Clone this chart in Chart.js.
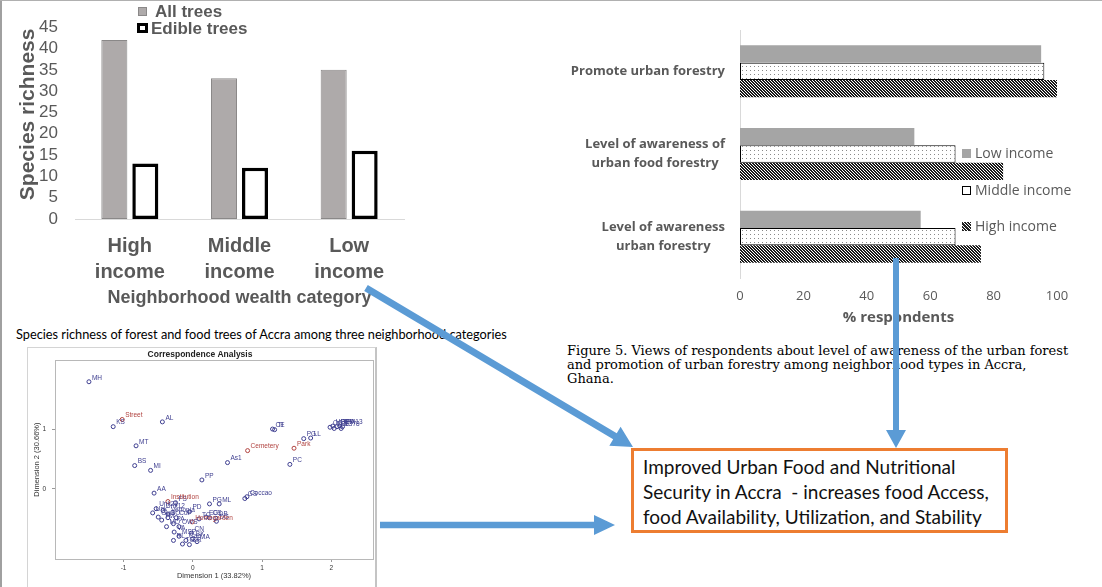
<!DOCTYPE html>
<html><head><meta charset="utf-8">
<script src="https://cdn.jsdelivr.net/npm/chart.js@4.4.0/dist/chart.umd.min.js"></script>
<style>
html,body{margin:0;padding:0;background:#fff;}
body{width:1102px;height:587px;position:relative;overflow:hidden;}
.abs{position:absolute;}
canvas{display:block;}
#legend1 div{position:absolute;font:bold 17px "Liberation Sans";color:#595959;white-space:nowrap;line-height:17px;}
#legend2 div{position:absolute;font:14px "Open Sans";color:#595959;white-space:nowrap;line-height:16px;}
.sw{position:absolute;box-sizing:border-box;}
</style></head><body>
<div class="abs" style="left:0;top:0;width:2px;height:587px;background:#a0a0a0"></div>
<div class="abs" style="left:0;top:0;width:1102px;height:1px;background:#b0b0b0"></div>

<canvas id="c1" class="abs" style="left:0;top:0" width="410" height="310"></canvas>
<div id="legend1">
  <span class="sw" style="left:138px;top:7px;width:9px;height:9px;background:#aeaaaa;border:1px solid #8a8888"></span>
  <div style="left:155px;top:3px">All trees</div>
  <span class="sw" style="left:137px;top:23px;width:11px;height:10px;background:#fff;border:3px solid #000"></span>
  <div style="left:151px;top:20px">Edible trees</div>
</div>

<canvas id="c2" class="abs" style="left:545px;top:25px" width="555" height="305"></canvas>
<div id="legend2">
  <span class="sw" style="left:962px;top:149px;width:9px;height:9px;background:#a5a5a5"></span>
  <div style="left:975px;top:145px">Low income</div>
  <span class="sw" style="left:962px;top:186px;width:9px;height:9px;background:#fff;border:1px solid #000"></span>
  <div style="left:975px;top:182px">Middle income</div>
  <span class="sw" style="left:962px;top:222px;width:9px;height:9px;background:repeating-linear-gradient(45deg,#222 0 1.6px,#fff 1.6px 2.4px)"></span>
  <div style="left:975px;top:218px">High income</div>
</div>

<div class="abs" style="left:16px;top:326px;font:12.75px Lato;color:#000;white-space:nowrap">Species richness of forest and food trees of Accra among three neighborhood categories</div>

<div class="abs" style="left:567px;top:344px;font:13px 'DejaVu Serif';line-height:14px;color:#000;white-space:nowrap">Figure 5. Views of respondents about level of awareness of the urban forest<br>and promotion of urban forestry among neighborhood types in Accra,<br>Ghana.</div>

<div class="abs" style="left:27px;top:347px;width:350px;height:245px;border:1px solid #d4d4d4;border-right:2px solid #c4c4c4;box-sizing:border-box"></div>
<canvas id="c3" class="abs" style="left:27px;top:347px" width="351" height="240"></canvas>

<div class="abs" style="left:631px;top:448px;width:377px;height:85px;box-sizing:border-box;border:3px solid #ed7d31;padding:3px 0 0 9px;font:19px Lato;line-height:25px;color:#111;white-space:nowrap">Improved Urban Food and Nutritional<br>Security in Accra&nbsp; - increases food Access,<br>food Availability, Utilization, and Stability</div>

<svg class="abs" style="left:0;top:0;pointer-events:none" width="1102" height="587">
  <g fill="#5b9bd5">
    <polygon id="a1"/>
    <polygon id="a2"/>
    <polygon id="a3"/>
  </g>
</svg>

<script>
// ---------- Data ----------
const wealthCategories = [["High", "income"], ["Middle", "income"], ["Low", "income"]];
const allTrees = [42, 33, 35];
const edibleTrees = [13, 12, 16];
const richnessTicks = [0, 5, 10, 15, 20, 25, 30, 35, 40, 45];

const viewCategories = [["Promote urban forestry"], ["Level of awareness of", "urban food forestry"], ["Level of awareness", "urban forestry"]];
const lowIncome = [95, 55, 57];
const middleIncome = [96, 68, 68];
const highIncome = [100, 83, 76];
const percentTicks = [0, 20, 40, 60, 80, 100];

const landUseLabels = ["Street", "Cemetery", "Park", "Institution", "Homegarden"];
const landUseX = [-1.02, 0.79, 1.46, -0.36, -0.01];
const landUseY = [1.16, 0.64, 0.68, -0.21, -0.55];

const speciesLabels = ["MH", "KS", "AL", "MT", "BS", "MI", "AA", "FS", "Unk21", "Unk12", "Unk", "Vertonia", "GuG", "TM", "BO", "CuP", "PD", "TC", "PA", "MO", "OWS", "VA", "CN", "MSP", "RL", "Cap", "TG", "BK", "MA", "CR", "EG", "CS", "DB", "DG", "PG", "ML", "GS", "Coccao", "PP", "As1", "CE", "TI", "PG", "LL", "PC", "HPL", "TPA", "OGS", "GPP", "PM13", "LCE", "D378"];
const speciesX = [-1.50, -1.15, -0.44, -0.82, -0.84, -0.61, -0.56, -0.25, -0.53, -0.43, -0.58, -0.36, -0.50, -0.45, -0.36, -0.24, -0.05, 0.09, -0.28, -0.38, -0.20, -0.27, -0.02, -0.20, -0.28, -0.10, -0.15, 0.00, 0.06, -0.05, 0.19, 0.24, 0.33, 0.34, 0.24, 0.38, 0.75, 0.78, 0.13, 0.50, 1.15, 1.18, 1.60, 1.70, 1.40, 2.02, 2.12, 1.98, 2.08, 2.16, 2.04, 2.14];
const speciesY = [1.79, 1.04, 1.12, 0.72, 0.39, 0.31, -0.07, -0.23, -0.33, -0.36, -0.40, -0.42, -0.47, -0.52, -0.48, -0.48, -0.38, -0.50, -0.58, -0.63, -0.63, -0.72, -0.74, -0.79, -0.86, -0.86, -0.92, -0.83, -0.88, -0.93, -0.47, -0.48, -0.49, -0.54, -0.25, -0.25, -0.16, -0.13, 0.15, 0.44, 1.00, 0.99, 0.84, 0.85, 0.41, 1.05, 1.05, 1.03, 1.04, 1.04, 1.01, 1.01];
const dim1Ticks = [-1, 0, 1, 2];
const dim2Ticks = [0, 1];

// ---------- Chart 1 ----------
new Chart(document.getElementById('c1'), {
  type: 'bar',
  data: {
    labels: wealthCategories,
    datasets: [
      {label: 'All trees', data: allTrees, backgroundColor: '#aeaaaa', borderColor: '#8a8888', borderWidth: 1, borderSkipped: false},
      {label: 'Edible trees', data: edibleTrees, backgroundColor: '#ffffff', borderColor: '#000000', borderWidth: 3.5, borderSkipped: false}
    ]
  },
  options: {
    responsive: false, animation: false, devicePixelRatio: 1,
    categoryPercentage: 0.565, barPercentage: 0.84,
    layout: {padding: {top: 20, right: 6, left: 0, bottom: 0}},
    plugins: {legend: {display: false}, tooltip: {enabled: false}},
    scales: {
      x: {
        grid: {display: false, drawTicks: false},
        border: {display: true, color: '#d9d9d9', width: 1},
        ticks: {padding: 14, color: '#595959', font: {family: 'Liberation Sans', size: 20, weight: 'bold', lineHeight: 1.3}},
        title: {display: true, text: 'Neighborhood wealth category', color: '#595959', font: {family: 'Liberation Sans', size: 18, weight: 'bold'}, padding: {top: 0, bottom: 1}},
        afterFit(s) { s.height = 91; }
      },
      y: {
        min: 0, max: 45,
        afterBuildTicks(s) { s.ticks = richnessTicks.map(v => ({value: v})); },
        grid: {display: false, drawTicks: false},
        border: {display: false},
        ticks: {autoSkip: false, padding: 17, color: '#595959', font: {family: 'Liberation Sans', size: 17}},
        title: {display: true, text: '   Species richness', color: '#595959', font: {family: 'Liberation Sans', size: 21, weight: 'bold'}, padding: {top: 16, bottom: 0}},
        afterFit(s) { s.width = 75; }
      }
    }
  }
});

// ---------- Chart 2 ----------
function makePattern(kind) {
  const p = document.createElement('canvas');
  const n = kind === 'dots' ? 4 : 3;
  p.width = n; p.height = n;
  const g = p.getContext('2d');
  g.fillStyle = '#fff'; g.fillRect(0, 0, n, n);
  if (kind === 'dots') {
    g.fillStyle = '#8a8a8a'; g.fillRect(1, 1, 1, 1);
  } else {
    g.fillStyle = '#1a1a1a';
    for (let y = 0; y < n; y++) for (let x = 0; x < n; x++) {
      const d = ((x - y) % n + n) % n;
      if (d === 0 || d === 1) g.fillRect(x, y, 1, 1);
    }
  }
  return document.getElementById('c2').getContext('2d').createPattern(p, 'repeat');
}
const dotPattern = makePattern('dots');
const hatchPattern = makePattern('hatch');

const yLabelPlugin = {
  id: 'yLabels',
  afterDraw(chart) {
    const s = chart.scales.y, ctx = chart.ctx;
    ctx.save();
    ctx.font = 'bold 13px "Open Sans"';
    ctx.fillStyle = '#595959';
    ctx.textAlign = 'center';
    ctx.textBaseline = 'middle';
    const right = chart.chartArea.left - 15;
    viewCategories.forEach((lines, i) => {
      const cy = s.getPixelForTick(i);
      const w = Math.max(...lines.map(l => ctx.measureText(l).width));
      const cx = right - w / 2;
      lines.forEach((l, j) => ctx.fillText(l, cx, cy + (j - (lines.length - 1) / 2) * 19));
    });
    ctx.restore();
  }
};

new Chart(document.getElementById('c2'), {
  type: 'bar',
  data: {
    labels: viewCategories,
    datasets: [
      {label: 'Low income', data: lowIncome, backgroundColor: '#a5a5a5', borderWidth: 0},
      {label: 'Middle income', data: middleIncome, backgroundColor: dotPattern, borderColor: '#000', borderWidth: 1, borderSkipped: false},
      {label: 'High income', data: highIncome, backgroundColor: hatchPattern, borderWidth: 0}
    ]
  },
  plugins: [yLabelPlugin],
  options: {
    indexAxis: 'y',
    responsive: false, animation: false, devicePixelRatio: 1,
    categoryPercentage: 0.63, barPercentage: 1,
    layout: {padding: {top: 5, right: 43, left: 0, bottom: 0}},
    plugins: {legend: {display: false}, tooltip: {enabled: false}},
    scales: {
      x: {
        min: 0, max: 100,
        afterBuildTicks(s) { s.ticks = percentTicks.map(v => ({value: v})); },
        grid: {display: false, drawTicks: false},
        border: {display: false},
        ticks: {autoSkip: false, padding: 10, color: '#595959', font: {family: 'Open Sans', size: 13}},
        title: {display: true, text: '% respondents', color: '#595959', font: {family: 'Open Sans', size: 15, weight: 'bold'}, padding: {top: 0, bottom: 3}},
        afterFit(s) { s.height = 52; }
      },
      y: {
        grid: {display: false, drawTicks: false},
        border: {display: true, color: '#d9d9d9', width: 1},
        ticks: {display: false},
        afterFit(s) { s.width = 195; }
      }
    }
  }
});

// ---------- Chart 3 ----------
const pointLabelPlugin = {
  id: 'pointLabels',
  afterDatasetsDraw(chart) {
    const ctx = chart.ctx;
    ctx.save();
    ctx.font = '6.5px "Liberation Sans"';
    ctx.textAlign = 'left';
    ctx.textBaseline = 'middle';
    chart.data.datasets.forEach((ds, di) => {
      const meta = chart.getDatasetMeta(di);
      ctx.fillStyle = ds.borderColor;
      meta.data.forEach((pt, i) => ctx.fillText(ds.pointLabels[i], pt.x + 3, pt.y - 4));
    });
    ctx.restore();
  }
};
const framePlugin = {
  id: 'frame',
  afterDatasetsDraw(chart) {
    const a = chart.chartArea, ctx = chart.ctx;
    ctx.save();
    ctx.strokeStyle = '#b8b8b8';
    ctx.lineWidth = 1;
    ctx.strokeRect(Math.round(a.left) + 0.5, Math.round(a.top) + 0.5, Math.round(a.right - a.left), Math.round(a.bottom - a.top));
    ctx.restore();
  }
};

new Chart(document.getElementById('c3'), {
  type: 'scatter',
  data: {
    datasets: [
      {label: 'Species', data: speciesX.map((x, i) => ({x: x, y: speciesY[i]})), pointLabels: speciesLabels,
       borderColor: '#3d3d8f', backgroundColor: 'rgba(0,0,0,0)', borderWidth: 1, pointRadius: 2},
      {label: 'Land use', data: landUseX.map((x, i) => ({x: x, y: landUseY[i]})), pointLabels: landUseLabels,
       borderColor: '#b0413e', backgroundColor: 'rgba(0,0,0,0)', borderWidth: 1, pointRadius: 2}
    ]
  },
  plugins: [pointLabelPlugin, framePlugin],
  options: {
    responsive: false, animation: false, devicePixelRatio: 1,
    layout: {padding: {top: 0, right: 5, left: 0, bottom: 0}},
    plugins: {
      legend: {display: false}, tooltip: {enabled: false},
      title: {display: true, text: 'Correspondence Analysis', color: '#222', font: {family: 'Liberation Sans', size: 8.5, weight: 'bold'}, padding: {top: 3, bottom: 0}}
    },
    scales: {
      x: {
        min: -1.99, max: 2.6,
        afterBuildTicks(s) { s.ticks = dim1Ticks.map(v => ({value: v})); },
        grid: {display: true, drawOnChartArea: false, tickLength: 3, color: '#999'},
        border: {display: false},
        ticks: {autoSkip: false, padding: 2, color: '#333', font: {family: 'Liberation Sans', size: 6.5}},
        title: {display: true, text: 'Dimension 1 (33.82%)', color: '#333', font: {family: 'Liberation Sans', size: 7.5}, padding: {top: 0, bottom: 6.5}},
        afterFit(s) { s.height = 28; }
      },
      y: {
        min: -1.17, max: 2.15,
        afterBuildTicks(s) { s.ticks = dim2Ticks.map(v => ({value: v})); },
        grid: {display: true, drawOnChartArea: false, tickLength: 3, color: '#999'},
        border: {display: false},
        ticks: {autoSkip: false, padding: 6, color: '#333', font: {family: 'Liberation Sans', size: 6.5}},
        title: {display: true, text: 'Dimension 2 (30.66%)', color: '#333', font: {family: 'Liberation Sans', size: 7.5}, padding: {top: 5, bottom: 0}},
        afterFit(s) { s.width = 28; }
      }
    }
  }
});

// ---------- Arrows (decoration) ----------
function arrow(id, x1, y1, x2, y2, shaft, headLen, headW) {
  const dx = x2 - x1, dy = y2 - y1, L = Math.hypot(dx, dy);
  const ux = dx / L, uy = dy / L, nx = -uy, ny = ux;
  const bx = x2 - ux * headLen, by = y2 - uy * headLen;
  const h = shaft / 2, w = headW / 2;
  const pts = [
    [x1 + nx * h, y1 + ny * h], [bx + nx * h, by + ny * h], [bx + nx * w, by + ny * w], [x2, y2],
    [bx - nx * w, by - ny * w], [bx - nx * h, by - ny * h], [x1 - nx * h, y1 - ny * h]
  ];
  document.getElementById(id).setAttribute('points', pts.map(p => p.join(',')).join(' '));
}
arrow('a1', 366, 288, 633, 447, 7, 21, 22);
arrow('a2', 896, 258, 896, 448, 6, 18, 20);
arrow('a3', 380, 525, 615, 525, 6.5, 21, 20);
</script>
</body></html>
